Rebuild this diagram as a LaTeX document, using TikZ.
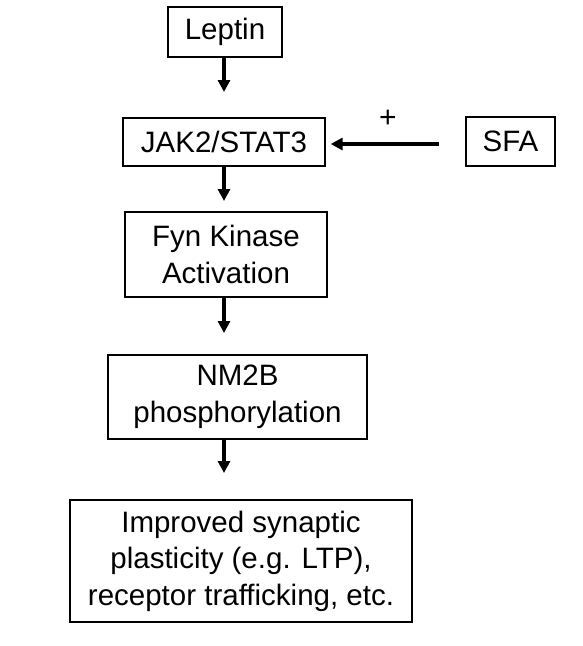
\documentclass[tikz,border=0pt]{standalone}
\usepackage{fontspec}
\setmainfont{Liberation Sans}
\usetikzlibrary{arrows.meta}
\begin{document}
\begin{tikzpicture}[x=1pt,y=-1pt,
  box/.style={draw=black,line width=1.3pt,inner sep=0pt,align=center,
    font=\fontsize{29.5}{36.5}\selectfont},
  arr/.style={line width=3.2pt,-{Triangle[length=12pt,width=12pt]}}]
\useasboundingbox (0,0) rectangle (583,646);
\node[box,minimum width=114pt,minimum height=50pt] (leptin) at (225,32) {Leptin};
\node[box,minimum width=202pt,minimum height=48pt] (jak) at (224,142) {JAK2/STAT3};
\node[box,minimum width=89pt,minimum height=49pt] (sfa) at (510.5,141.5) {SFA};
\node[box,minimum width=202pt,minimum height=85pt] (fyn) at (226,254.5) {Fyn Kinase\\Activation};
\node[box,minimum width=259pt,minimum height=84pt] (nm2b) at (237.5,397) {NM2B\\phosphorylation};
\node[box,minimum width=342pt,minimum height=122pt] (imp) at (241,561) {Improved synaptic\\plasticity (e.g. LTP),\\receptor trafficking, etc.};
\coordinate (a1) at (224,92);
\coordinate (a2) at (224,201);
\coordinate (a3) at (224,333);
\coordinate (a4) at (224,473);
\coordinate (s1) at (439,144);
\draw[arr] (a1 |- leptin.south) -- (a1);
\draw[arr] (a2 |- jak.south) -- (a2);
\draw[arr] (a3 |- fyn.south) -- (a3);
\draw[arr] (a4 |- nm2b.south) -- (a4);
\draw[arr,shorten >=5pt] (s1) -- (jak.east |- s1);
\node[font=\fontsize{30}{34}\selectfont,inner sep=0pt] (plus) at (388,119) {+};
\end{tikzpicture}
\end{document}
